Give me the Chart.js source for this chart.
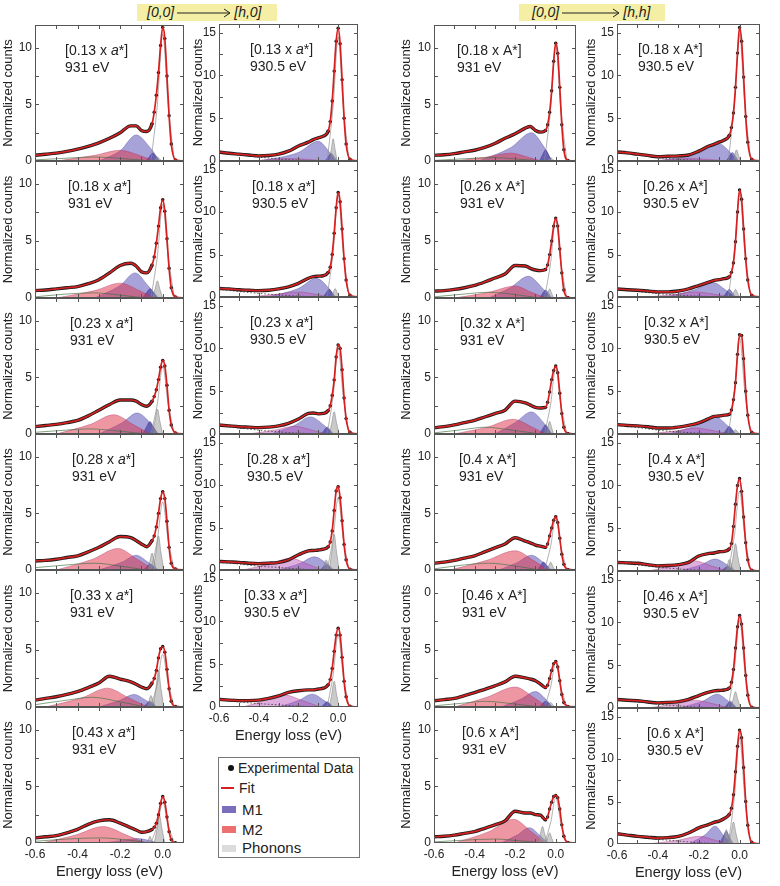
<!DOCTYPE html>
<html>
<head>
<meta charset="utf-8">
<script src="https://cdn.jsdelivr.net/npm/chart.js@4.4.1/dist/chart.umd.min.js"></script>
<style>
  body { margin: 0; background: #fff; font-family: "Liberation Sans", Arial, sans-serif; color: #222; }
  #stage { position: relative; width: 780px; height: 886px; overflow: hidden; }
  #stage canvas { position: absolute; }
  .hdr { position: absolute; top: 4px; height: 17px; background: #f4efa4; font-size: 14px; font-style: italic;
         line-height: 17px; display: flex; align-items: center; white-space: nowrap; }
  .hdr svg { margin: 0 2px; }
  .lg { position: absolute; left: 218px; top: 757px; width: 140px; height: 99px; border: 1px solid #777; }
  .lg div { position: absolute; }
  .lg .t { font-size: 14px; line-height: 16px; }
  .lg .t2 { font-size: 15px; line-height: 17px; }
</style>
</head>
<body>
<div id="stage">
  <div class="hdr" style="left:137px;width:140px">
    <span style="margin-left:10px">[0,0]</span>
    <svg width="56" height="10"><line x1="1" y1="5" x2="54" y2="5" stroke="#222" stroke-width="1"/><polyline points="48,1 54,5 48,9" fill="none" stroke="#222" stroke-width="1"/></svg>
    <span>[h,0]</span>
  </div>
  <div class="hdr" style="left:519px;width:146px">
    <span style="margin-left:13px">[0,0]</span>
    <svg width="60" height="10"><line x1="1" y1="5" x2="58" y2="5" stroke="#222" stroke-width="1"/><polyline points="52,1 58,5 52,9" fill="none" stroke="#222" stroke-width="1"/></svg>
    <span>[h,h]</span>
  </div>
  <div class="lg">
    <div style="left:9px;top:7px;width:6px;height:6px;border-radius:3px;background:#111"></div>
    <div class="t" style="left:19px;top:2px">Experimental Data</div>
    <div style="left:2px;top:29px;width:13px;height:2px;background:#d42020"></div>
    <div class="t" style="left:20px;top:22px">Fit</div>
    <div style="left:3px;top:48px;width:14px;height:7px;background:#7b6ebd"></div>
    <div class="t2" style="left:23px;top:43px">M1</div>
    <div style="left:3px;top:68px;width:14px;height:7px;background:#ec7070"></div>
    <div class="t2" style="left:23px;top:63px">M2</div>
    <div style="left:3px;top:87px;width:14px;height:7px;background:#dcdcdc"></div>
    <div class="t2" style="left:23px;top:81px">Phonons</div>
  </div>
</div>
<script>
// shared energy grid (eV) for the measured spectra
const energy = [-0.6, -0.55, -0.5, -0.45, -0.4, -0.35, -0.3, -0.25, -0.2, -0.15, -0.125, -0.1, -0.075,
    -0.05, -0.04, -0.03, -0.02, -0.01, 0, 0.01, 0.02, 0.03, 0.04, 0.06, 0.1];

const xTickValues = [-0.6, -0.4, -0.2, 0];
const xTickMarks = [-0.5, -0.4, -0.3, -0.2, -0.1, 0];
const yTicksLow = [0, 5, 10];
const yLabelsLow = ['0', '5', '10'];
const yLabelsOdd = ['0', '5', '0'];
const yMarksLow = [2.5, 5, 7.5, 10];
const yTicksHigh = [0, 5, 10, 15];
const yLabelsHigh = ['0', '5', '10', '15'];
const yMarksHigh = [2.5, 5, 7.5, 10, 12.5, 15];

// momentum transfer per panel
const qH931 = ['0.13', '0.18', '0.23', '0.28', '0.33', '0.43'];
const qH9305 = ['0.13', '0.18', '0.23', '0.28', '0.33'];
const qHH931 = ['0.18', '0.26', '0.32', '0.4', '0.46', '0.6'];
const qHH9305 = ['0.18', '0.26', '0.32', '0.4', '0.46', '0.6'];

// normalized counts on the energy grid
const countsH931 = [
    [0.5, 0.6, 0.7, 0.85, 1.05, 1.3, 1.6, 2.0, 2.5, 3.1, 3.1, 2.7, 2.6, 3.3, 4.3, 5.8, 7.8, 10.2, 11.8, 10.8, 7.5, 4.0, 1.5, 0.1, 0],
    [0.65, 0.7, 0.8, 0.9, 1.0, 1.25, 1.6, 2.2, 2.85, 3.05, 2.8, 2.3, 2.2, 2.9, 3.6, 4.8, 6.3, 7.9, 8.6, 7.6, 5.2, 2.6, 0.9, 0.1, 0],
    [0.65, 0.75, 0.85, 1.0, 1.2, 1.6, 2.1, 2.6, 3.0, 3.0, 2.9, 2.6, 2.45, 2.9, 3.3, 3.9, 4.8, 5.9, 6.5, 6.0, 4.3, 2.1, 0.8, 0.1, 0],
    [0.8, 0.85, 0.95, 1.1, 1.25, 1.6, 2.0, 2.5, 2.95, 2.85, 2.6, 2.3, 2.05, 2.6, 3.0, 3.8, 5.0, 6.3, 6.9, 6.3, 4.3, 2.0, 0.6, 0.1, 0],
    [0.6, 0.75, 0.9, 1.1, 1.35, 1.7, 2.1, 2.7, 2.45, 2.2, 2.0, 1.75, 1.6, 2.1, 2.5, 3.2, 4.3, 5.1, 5.3, 4.8, 3.3, 1.6, 0.5, 0.05, 0],
    [0.45, 0.55, 0.65, 0.9, 1.2, 1.65, 1.95, 2.05, 1.75, 1.35, 1.15, 0.95, 1.0, 1.2, 1.4, 1.75, 2.5, 3.5, 4.1, 3.6, 2.3, 1.0, 0.3, 0.02, 0]
];
const countsH9305 = [
    [1.05, 0.9, 0.8, 0.7, 0.6, 0.65, 0.8, 1.15, 1.75, 2.2, 2.5, 2.7, 2.9, 3.5, 4.6, 7.0, 10.5, 14.0, 15.5, 13.7, 9.5, 5.0, 2.0, 0.2, 0],
    [1.0, 0.95, 0.85, 0.8, 0.75, 0.8, 0.95, 1.2, 1.6, 2.2, 2.4, 2.45, 2.5, 2.9, 3.5, 5.0, 7.5, 10.5, 12.3, 11.2, 8.0, 4.5, 2.0, 0.2, 0],
    [1.05, 0.95, 0.85, 0.8, 0.75, 0.8, 0.95, 1.25, 1.75, 2.4, 2.45, 2.35, 2.4, 2.75, 3.3, 4.5, 6.3, 9.0, 10.4, 10.0, 7.5, 4.2, 1.8, 0.2, 0],
    [1.0, 0.95, 0.9, 0.8, 0.75, 0.8, 0.9, 1.2, 1.8, 2.25, 2.3, 2.35, 2.45, 2.75, 3.3, 4.6, 7.0, 9.3, 9.8, 8.5, 5.8, 3.0, 1.2, 0.1, 0],
    [0.9, 0.8, 0.75, 0.75, 0.8, 1.0, 1.3, 1.7, 1.9, 2.0, 2.0, 2.1, 2.2, 2.6, 3.2, 4.5, 6.5, 8.4, 9.2, 8.4, 5.8, 3.0, 1.2, 0.1, 0]
];
const countsHH931 = [
    [0.5, 0.55, 0.65, 0.8, 0.95, 1.2, 1.55, 2.0, 2.4, 2.9, 3.05, 2.7, 2.55, 2.7, 3.2, 4.3, 6.2, 8.8, 10.4, 9.5, 6.5, 3.2, 1.0, 0.05, 0],
    [0.6, 0.65, 0.75, 0.9, 1.1, 1.4, 1.75, 2.1, 2.85, 2.8, 2.6, 2.45, 2.4, 2.5, 2.9, 3.8, 5.0, 6.3, 7.0, 6.3, 4.3, 2.2, 0.7, 0.05, 0],
    [0.55, 0.65, 0.8, 1.0, 1.2, 1.5, 1.8, 2.1, 2.9, 2.75, 2.55, 2.35, 2.3, 2.35, 2.8, 3.7, 4.8, 5.6, 6.0, 5.4, 3.6, 1.8, 0.6, 0.05, 0],
    [0.6, 0.7, 0.85, 1.05, 1.25, 1.6, 1.95, 2.3, 2.85, 2.55, 2.4, 2.2, 2.1, 2.0, 2.3, 3.0, 3.7, 4.4, 4.7, 4.2, 2.8, 1.4, 0.5, 0.05, 0],
    [0.55, 0.65, 0.75, 1.0, 1.25, 1.55, 1.85, 2.2, 2.7, 2.55, 2.45, 2.3, 2.0, 1.7, 1.9, 2.5, 3.2, 3.8, 4.0, 3.5, 2.3, 1.1, 0.4, 0.05, 0],
    [0.55, 0.6, 0.7, 0.85, 1.0, 1.3, 1.6, 1.95, 2.8, 2.65, 2.65, 2.5, 2.45, 2.05, 2.3, 3.0, 3.6, 4.1, 4.2, 4.0, 3.0, 1.6, 0.6, 0.05, 0]
];
const countsHH9305 = [
    [1.05, 0.95, 0.8, 0.65, 0.5, 0.55, 0.6, 0.7, 1.15, 1.75, 1.95, 2.2, 2.45, 3.0, 3.9, 5.6, 8.6, 12.6, 15.6, 14.0, 9.8, 5.2, 2.2, 0.2, 0],
    [0.95, 0.85, 0.8, 0.7, 0.6, 0.6, 0.7, 0.95, 1.35, 1.75, 1.95, 2.05, 2.15, 2.4, 2.9, 4.0, 6.5, 10.0, 12.6, 11.5, 8.0, 4.5, 2.0, 0.2, 0],
    [1.1, 1.0, 0.95, 0.85, 0.7, 0.7, 0.8, 1.0, 1.3, 1.8, 2.05, 2.1, 2.2, 2.3, 2.8, 4.0, 6.0, 9.3, 11.6, 11.5, 8.8, 5.0, 2.2, 0.2, 0],
    [1.0, 0.95, 0.9, 0.75, 0.6, 0.65, 0.75, 1.0, 1.75, 2.05, 2.1, 2.25, 2.3, 2.6, 3.2, 5.2, 7.8, 10.0, 10.8, 9.3, 6.3, 3.3, 1.3, 0.1, 0],
    [1.0, 0.9, 0.85, 0.7, 0.6, 0.65, 0.75, 1.0, 1.45, 1.85, 2.0, 2.05, 2.1, 2.35, 3.0, 4.5, 7.0, 9.5, 10.8, 9.8, 7.0, 3.8, 1.5, 0.1, 0],
    [1.2, 1.05, 0.9, 0.8, 0.7, 0.75, 0.9, 1.3, 1.9, 2.3, 2.55, 2.7, 3.0, 3.5, 4.2, 5.8, 8.5, 11.5, 13.4, 12.5, 9.0, 5.0, 2.2, 0.2, 0]
];

// fitted components, as (energy, counts) pairs
const m1H931 = [
    [-0.3, 0, -0.2, 0.9, -0.125, 2.3, -0.06, 1.2, -0.015, 0],
    [-0.32, 0, -0.2, 1.1, -0.13, 2.2, -0.07, 1.1, -0.02, 0],
    [-0.3, 0, -0.19, 1.0, -0.12, 1.85, -0.06, 1.0, -0.02, 0],
    [-0.3, 0, -0.19, 0.7, -0.125, 1.3, -0.07, 0.7, -0.02, 0],
    [-0.3, 0, -0.2, 0.6, -0.135, 1.1, -0.08, 0.6, -0.03, 0],
    [-0.28, 0, -0.18, 0.25, -0.12, 0.4, -0.07, 0.25, -0.02, 0]
];
const m1bH931 = [
    [-0.08, 0, -0.062, 0.4, -0.047, 0.7, -0.032, 0.4, -0.015, 0],
    [-0.095, 0, -0.077, 0.45, -0.06, 0.8, -0.043, 0.45, -0.025, 0],
    [-0.095, 0, -0.077, 0.6, -0.06, 1.1, -0.043, 0.6, -0.025, 0],
    [-0.09, 0, -0.075, 0.3, -0.06, 0.5, -0.045, 0.3, -0.03, 0],
    [-0.09, 0, -0.075, 0.3, -0.06, 0.5, -0.045, 0.3, -0.03, 0],
    []
];
const m2H931 = [
    [-0.5, 0, -0.32, 0.5, -0.2, 0.95, -0.11, 0.5, -0.04, 0],
    [-0.5, 0, -0.32, 0.65, -0.2, 1.3, -0.11, 0.65, -0.04, 0],
    [-0.5, 0, -0.34, 0.85, -0.23, 1.7, -0.14, 0.85, -0.06, 0],
    [-0.5, 0, -0.33, 0.95, -0.21, 1.9, -0.12, 0.95, -0.04, 0],
    [-0.55, 0, -0.38, 0.8, -0.26, 1.65, -0.16, 0.8, -0.07, 0],
    [-0.57, 0, -0.41, 0.7, -0.28, 1.45, -0.17, 0.7, -0.08, 0]
];
const phH931 = [
    [-0.045, 0, -0.035, 0.2, -0.025, 0.35, -0.015, 0.2, -0.005, 0],
    [-0.05, 0, -0.037, 0.75, -0.025, 1.5, -0.013, 0.75, 0, 0],
    [-0.05, 0, -0.037, 1.1, -0.025, 2.2, -0.013, 1.1, 0, 0],
    [-0.045, 0, -0.032, 1.5, -0.02, 3.0, -0.008, 1.5, 0.005, 0],
    [-0.045, 0, -0.032, 1.6, -0.02, 3.2, -0.008, 1.6, 0.005, 0],
    [-0.04, 0, -0.027, 1.2, -0.015, 2.4, -0.003, 1.2, 0.01, 0]
];
const ph2H931 = [
    [], [], [],
    [-0.07, 0, -0.06, 0.75, -0.05, 1.5, -0.04, 0.75, -0.03, 0],
    [-0.075, 0, -0.065, 0.5, -0.055, 1.0, -0.045, 0.5, -0.035, 0],
    [-0.075, 0, -0.067, 0.3, -0.06, 0.6, -0.053, 0.3, -0.045, 0]
];
const elH931 = [
    [-0.055, 0, -0.025, 5.0, 0, 11.2, 0.025, 5.0, 0.055, 0],
    [-0.055, 0, -0.025, 3.7, 0, 8.2, 0.025, 3.7, 0.055, 0],
    [-0.055, 0, -0.025, 2.7, 0, 6.0, 0.025, 2.7, 0.055, 0],
    [-0.055, 0, -0.025, 2.7, 0, 6.0, 0.025, 2.7, 0.055, 0],
    [-0.055, 0, -0.025, 2.1, 0, 4.6, 0.025, 2.1, 0.055, 0],
    [-0.055, 0, -0.025, 1.6, 0, 3.6, 0.025, 1.6, 0.055, 0]
];
const bgH931 = [
    [-0.6, 0.1, -0.45, 0.25, -0.32, 0.35, -0.18, 0.2, -0.05, 0],
    [-0.6, 0.1, -0.45, 0.35, -0.33, 0.45, -0.2, 0.25, -0.08, 0],
    [-0.6, 0.15, -0.45, 0.35, -0.35, 0.45, -0.2, 0.25, -0.08, 0],
    [-0.6, 0.2, -0.45, 0.45, -0.32, 0.6, -0.2, 0.35, -0.08, 0],
    [-0.6, 0.2, -0.45, 0.6, -0.33, 0.85, -0.2, 0.45, -0.08, 0],
    [-0.6, 0.15, -0.45, 0.35, -0.3, 0.45, -0.18, 0.3, -0.06, 0]
];

const m1H9305 = [
    [-0.4, 0, -0.2, 1.0, -0.1, 2.3, -0.05, 1.2, -0.015, 0],
    [-0.36, 0, -0.2, 1.0, -0.11, 2.2, -0.05, 1.1, -0.015, 0],
    [-0.34, 0, -0.22, 1.0, -0.14, 2.0, -0.07, 1.0, -0.025, 0],
    [-0.3, 0, -0.19, 0.8, -0.12, 1.55, -0.06, 0.8, -0.02, 0],
    [-0.3, 0, -0.2, 0.75, -0.13, 1.5, -0.07, 0.75, -0.025, 0]
];
const m1bH9305 = [
    [-0.065, 0, -0.05, 0.5, -0.035, 0.9, -0.02, 0.5, -0.005, 0],
    [-0.075, 0, -0.06, 0.5, -0.045, 0.9, -0.03, 0.5, -0.015, 0],
    [-0.085, 0, -0.07, 0.45, -0.055, 0.8, -0.04, 0.45, -0.025, 0],
    [-0.09, 0, -0.075, 0.35, -0.06, 0.6, -0.045, 0.35, -0.03, 0],
    [-0.085, 0, -0.07, 0.35, -0.055, 0.6, -0.04, 0.35, -0.025, 0]
];
const m2H9305 = [
    [-0.45, 0, -0.33, 0.18, -0.25, 0.3, -0.15, 0.18, -0.05, 0],
    [-0.45, 0, -0.3, 0.35, -0.2, 0.6, -0.12, 0.35, -0.05, 0],
    [-0.45, 0, -0.31, 0.5, -0.22, 0.9, -0.14, 0.5, -0.06, 0],
    [-0.48, 0, -0.34, 0.75, -0.24, 1.4, -0.16, 0.75, -0.08, 0],
    [-0.48, 0, -0.37, 0.75, -0.27, 1.4, -0.18, 0.75, -0.09, 0]
];
const phH9305 = [
    [-0.045, 0, -0.035, 1.3, -0.025, 2.6, -0.015, 1.3, -0.005, 0],
    [-0.035, 0, -0.025, 0.5, -0.015, 1.0, -0.005, 0.5, 0.005, 0],
    [-0.045, 0, -0.032, 1.3, -0.02, 2.6, -0.008, 1.3, 0.005, 0],
    [-0.045, 0, -0.032, 2.1, -0.02, 4.2, -0.008, 2.1, 0.005, 0],
    [-0.045, 0, -0.032, 1.5, -0.02, 3.0, -0.008, 1.5, 0.005, 0]
];
const ph2H9305 = [[], [], [], [-0.08, 0, -0.07, 0.6, -0.06, 1.2, -0.05, 0.6, -0.04, 0], []];
const elH9305 = [
    [-0.055, 0, -0.025, 6.5, 0, 14.5, 0.025, 6.5, 0.055, 0],
    [-0.055, 0, -0.025, 5.4, 0, 12.0, 0.025, 5.4, 0.055, 0],
    [-0.055, 0, -0.025, 4.5, 0, 10.0, 0.025, 4.5, 0.055, 0],
    [-0.055, 0, -0.025, 3.8, 0, 8.5, 0.025, 3.8, 0.055, 0],
    [-0.055, 0, -0.025, 3.8, 0, 8.5, 0.025, 3.8, 0.055, 0]
];
const bgH9305 = [
    [-0.6, 1.0, -0.5, 0.75, -0.4, 0.45, -0.3, 0.25, -0.2, 0.1, -0.1, 0.02],
    [-0.6, 0.9, -0.5, 0.65, -0.4, 0.42, -0.3, 0.25, -0.2, 0.1, -0.1, 0.02],
    [-0.6, 0.95, -0.5, 0.7, -0.4, 0.45, -0.3, 0.25, -0.2, 0.1, -0.1, 0.02],
    [-0.6, 0.9, -0.5, 0.7, -0.4, 0.45, -0.3, 0.3, -0.2, 0.12, -0.1, 0.02],
    [-0.6, 0.8, -0.5, 0.6, -0.4, 0.4, -0.3, 0.25, -0.2, 0.1, -0.1, 0.02]
];

const m1HH931 = [
    [-0.38, 0, -0.22, 1.2, -0.12, 2.5, -0.06, 1.3, -0.02, 0],
    [-0.33, 0, -0.22, 0.95, -0.135, 1.9, -0.07, 0.95, -0.025, 0],
    [-0.3, 0, -0.2, 1.0, -0.12, 1.95, -0.06, 1.0, -0.02, 0],
    [-0.28, 0, -0.19, 0.65, -0.12, 1.3, -0.06, 0.65, -0.02, 0],
    [-0.27, 0, -0.17, 0.7, -0.1, 1.35, -0.05, 0.7, -0.015, 0],
    [-0.27, 0, -0.19, 0.7, -0.13, 1.35, -0.08, 0.7, -0.04, 0]
];
const m1bHH931 = [
    [-0.08, 0, -0.065, 0.55, -0.05, 1.0, -0.035, 0.55, -0.02, 0],
    [-0.08, 0, -0.065, 0.4, -0.05, 0.7, -0.035, 0.4, -0.02, 0],
    [-0.08, 0, -0.065, 0.45, -0.05, 0.8, -0.035, 0.45, -0.02, 0],
    [-0.09, 0, -0.075, 0.4, -0.06, 0.7, -0.045, 0.4, -0.03, 0],
    [-0.08, 0, -0.065, 0.3, -0.05, 0.5, -0.035, 0.3, -0.02, 0],
    []
];
const m2HH931 = [
    [-0.5, 0, -0.34, 0.35, -0.22, 0.7, -0.14, 0.35, -0.07, 0],
    [-0.5, 0, -0.33, 0.5, -0.2, 1.05, -0.12, 0.5, -0.05, 0],
    [-0.5, 0, -0.33, 0.65, -0.21, 1.3, -0.12, 0.65, -0.05, 0],
    [-0.52, 0, -0.34, 0.85, -0.2, 1.7, -0.11, 0.85, -0.04, 0],
    [-0.5, 0, -0.34, 0.85, -0.2, 1.75, -0.11, 0.85, -0.04, 0],
    [-0.5, 0, -0.33, 1.0, -0.21, 2.1, -0.12, 1.0, -0.05, 0]
];
const phHH931 = [
    [-0.045, 0, -0.035, 0.15, -0.025, 0.3, -0.015, 0.15, -0.005, 0],
    [-0.05, 0, -0.04, 0.4, -0.03, 0.8, -0.02, 0.4, -0.01, 0],
    [-0.05, 0, -0.04, 0.55, -0.03, 1.1, -0.02, 0.55, -0.01, 0],
    [-0.045, 0, -0.035, 0.35, -0.025, 0.7, -0.015, 0.35, -0.005, 0],
    [-0.045, 0, -0.035, 0.2, -0.025, 0.4, -0.015, 0.2, -0.005, 0],
    [-0.05, 0, -0.04, 0.45, -0.03, 0.9, -0.02, 0.45, -0.01, 0]
];
const ph2HH931 = [[], [], [], [], [], [-0.09, 0, -0.077, 0.7, -0.065, 1.45, -0.053, 0.7, -0.04, 0]];
const elHH931 = [
    [-0.055, 0, -0.025, 4.6, 0, 10.2, 0.025, 4.6, 0.055, 0],
    [-0.055, 0, -0.025, 3.1, 0, 6.9, 0.025, 3.1, 0.055, 0],
    [-0.055, 0, -0.025, 2.65, 0, 5.9, 0.025, 2.65, 0.055, 0],
    [-0.055, 0, -0.025, 2.1, 0, 4.6, 0.025, 2.1, 0.055, 0],
    [-0.055, 0, -0.025, 1.75, 0, 3.9, 0.025, 1.75, 0.055, 0],
    [-0.055, 0, -0.025, 1.8, 0, 4.0, 0.025, 1.8, 0.055, 0]
];
const bgHH931 = [
    [-0.6, 0.05, -0.45, 0.2, -0.3, 0.3, -0.18, 0.15, -0.06, 0],
    [-0.6, 0.1, -0.45, 0.35, -0.33, 0.5, -0.2, 0.3, -0.08, 0],
    [-0.6, 0.1, -0.45, 0.4, -0.35, 0.6, -0.22, 0.35, -0.08, 0],
    [-0.6, 0.1, -0.45, 0.45, -0.33, 0.6, -0.2, 0.35, -0.08, 0],
    [-0.6, 0.1, -0.45, 0.35, -0.35, 0.5, -0.22, 0.3, -0.08, 0],
    [-0.6, 0.1, -0.45, 0.25, -0.3, 0.35, -0.18, 0.2, -0.06, 0]
];

const m1HH9305 = [
    [-0.4, 0, -0.2, 0.95, -0.1, 2.0, -0.05, 1.1, -0.015, 0],
    [-0.36, 0, -0.22, 0.85, -0.13, 1.7, -0.07, 0.85, -0.025, 0],
    [-0.35, 0, -0.21, 1.0, -0.12, 2.0, -0.06, 1.0, -0.02, 0],
    [-0.3, 0, -0.19, 0.7, -0.12, 1.4, -0.06, 0.7, -0.02, 0],
    [-0.3, 0, -0.18, 0.8, -0.11, 1.6, -0.055, 0.8, -0.015, 0],
    [-0.25, 0, -0.17, 1.05, -0.12, 2.1, -0.08, 1.05, -0.04, 0]
];
const m1bHH9305 = [
    [-0.065, 0, -0.05, 0.55, -0.035, 1.0, -0.02, 0.55, -0.005, 0],
    [-0.08, 0, -0.065, 0.5, -0.05, 0.9, -0.035, 0.5, -0.02, 0],
    [-0.08, 0, -0.065, 0.5, -0.05, 0.9, -0.035, 0.5, -0.02, 0],
    [-0.09, 0, -0.075, 0.3, -0.06, 0.5, -0.045, 0.3, -0.03, 0],
    [-0.075, 0, -0.06, 0.45, -0.045, 0.8, -0.03, 0.45, -0.015, 0],
    [-0.1, 0, -0.083, 0.75, -0.065, 1.5, -0.048, 0.75, -0.03, 0]
];
const m2HH9305 = [
    [-0.45, 0, -0.33, 0.18, -0.25, 0.3, -0.15, 0.18, -0.05, 0],
    [-0.45, 0, -0.3, 0.35, -0.22, 0.6, -0.13, 0.35, -0.05, 0],
    [-0.45, 0, -0.3, 0.4, -0.22, 0.7, -0.13, 0.4, -0.05, 0],
    [-0.45, 0, -0.32, 0.6, -0.22, 1.2, -0.14, 0.6, -0.06, 0],
    [-0.45, 0, -0.31, 0.5, -0.22, 0.9, -0.13, 0.5, -0.05, 0],
    [-0.45, 0, -0.3, 0.45, -0.2, 0.9, -0.12, 0.45, -0.05, 0]
];
const phHH9305 = [
    [-0.035, 0, -0.025, 0.65, -0.015, 1.3, -0.005, 0.65, 0.005, 0],
    [-0.04, 0, -0.03, 0.45, -0.02, 0.9, -0.01, 0.45, 0, 0],
    [-0.04, 0, -0.03, 0.25, -0.02, 0.5, -0.01, 0.25, 0, 0],
    [-0.045, 0, -0.032, 1.6, -0.02, 3.2, -0.008, 1.6, 0.005, 0],
    [-0.045, 0, -0.032, 0.95, -0.02, 1.9, -0.008, 0.95, 0.005, 0],
    [-0.055, 0, -0.042, 1.3, -0.03, 2.6, -0.018, 1.3, -0.005, 0]
];
const ph2HH9305 = [[], [], [], [-0.07, 0, -0.06, 0.7, -0.05, 1.35, -0.04, 0.7, -0.03, 0], [],
    [-0.085, 0, -0.075, 0.85, -0.065, 1.7, -0.055, 0.85, -0.045, 0]];
const elHH9305 = [
    [-0.055, 0, -0.025, 6.7, 0, 14.8, 0.025, 6.7, 0.055, 0],
    [-0.055, 0, -0.025, 5.5, 0, 12.2, 0.025, 5.5, 0.055, 0],
    [-0.055, 0, -0.025, 5.1, 0, 11.3, 0.025, 5.1, 0.055, 0],
    [-0.055, 0, -0.025, 4.2, 0, 9.3, 0.025, 4.2, 0.055, 0],
    [-0.055, 0, -0.025, 4.6, 0, 10.2, 0.025, 4.6, 0.055, 0],
    [-0.055, 0, -0.025, 5.6, 0, 12.5, 0.025, 5.6, 0.055, 0]
];
const bgHH9305 = [
    [-0.6, 1.0, -0.5, 0.7, -0.4, 0.4, -0.3, 0.2, -0.2, 0.08, -0.1, 0.02],
    [-0.6, 0.9, -0.5, 0.65, -0.4, 0.4, -0.3, 0.22, -0.2, 0.1, -0.1, 0.02],
    [-0.6, 1.0, -0.5, 0.75, -0.4, 0.45, -0.3, 0.25, -0.2, 0.1, -0.1, 0.02],
    [-0.6, 0.95, -0.5, 0.7, -0.4, 0.45, -0.3, 0.25, -0.2, 0.1, -0.1, 0.02],
    [-0.6, 0.95, -0.5, 0.7, -0.4, 0.45, -0.3, 0.25, -0.2, 0.1, -0.1, 0.02],
    [-0.6, 1.1, -0.5, 0.8, -0.4, 0.55, -0.3, 0.35, -0.2, 0.15, -0.1, 0.03]
];

const FONT = '"Liberation Sans", Arial, sans-serif';
Chart.defaults.font.family = FONT;
Chart.defaults.color = '#222';

const M2_RED = 'rgba(222,48,72,0.5)';
const M2_VIOLET = 'rgba(185,85,185,0.48)';

const columns = [
    { counts: countsH931, m1: m1H931, m1b: m1bH931, m2: m2H931, ph: phH931, ph2: ph2H931, el: elH931, bg: bgH931,
      q: qH931, eText: '931 eV', italicA: true, plotLeft: 35, plotW: 150, top: 25, rowH: 136.3, yW: 34,
      yMax: 12, yTicks: yTicksLow, yLabels: yLabelsLow, yMarks: yMarksLow, textDx: [30, 33, 35, 37, 35, 37],
      m2Color: M2_RED, bgColor: 'rgba(60,110,60,0.8)', bgDash: [] },
    { counts: countsH9305, m1: m1H9305, m1b: m1bH9305, m2: m2H9305, ph: phH9305, ph2: ph2H9305, el: elH9305, bg: bgH9305,
      q: qH9305, eText: '930.5 eV', italicA: true, plotLeft: 219, plotW: 140, top: 24, rowH: 136.6, yW: 28,
      yMax: 16, yTicks: yTicksHigh, yLabels: yLabelsHigh, yMarks: yMarksHigh, textDx: [31, 33, 31, 28, 25],
      m2Color: M2_VIOLET, bgColor: '#333', bgDash: [1.5, 2] },
    { counts: countsHH931, m1: m1HH931, m1b: m1bHH931, m2: m2HH931, ph: phHH931, ph2: ph2HH931, el: elHH931, bg: bgHH931,
      q: qHH931, eText: '931 eV', italicA: false, plotLeft: 434, plotW: 143, top: 25, rowH: 136.3, yW: 35,
      yMax: 12, yTicks: yTicksLow, yLabels: yLabelsLow, yMarks: yMarksLow, textDx: [23, 26, 26, 25, 28, 28],
      oddLabels: { 4: yLabelsOdd },
      m2Color: M2_RED, bgColor: 'rgba(60,110,60,0.8)', bgDash: [] },
    { counts: countsHH9305, m1: m1HH9305, m1b: m1bHH9305, m2: m2HH9305, ph: phHH9305, ph2: ph2HH9305, el: elHH9305, bg: bgHH9305,
      q: qHH9305, eText: '930.5 eV', italicA: false, plotLeft: 617, plotW: 144, top: 24, rowH: 136.7, yW: 33,
      yMax: 16, yTicks: yTicksHigh, yLabels: yLabelsHigh, yMarks: yMarksHigh, textDx: [21, 26, 27, 31, 26, 30],
      m2Color: M2_VIOLET, bgColor: '#333', bgDash: [1.5, 2] }
];

function pairs(flat) {
    const out = [];
    for (let i = 0; i < flat.length; i += 2) out.push({ x: flat[i], y: flat[i + 1] });
    return out;
}

// frame, inward ticks and the in-panel annotation
const panelDecor = {
    id: 'panelDecor',
    afterDatasetsDraw(chart, args, opts) {
        const { ctx, chartArea: a, scales: { x, y } } = chart;
        ctx.save();
        ctx.strokeStyle = '#555';
        ctx.lineWidth = 1;
        ctx.strokeRect(Math.round(a.left) + 0.5, Math.round(a.top) + 0.5,
            Math.round(a.right - a.left) - 1, Math.round(a.bottom - a.top) - 1);
        ctx.beginPath();
        xTickMarks.forEach(function (v) {
            const px = Math.round(x.getPixelForValue(v)) + 0.5;
            ctx.moveTo(px, a.bottom); ctx.lineTo(px, a.bottom - 4);
            ctx.moveTo(px, a.top); ctx.lineTo(px, a.top + 4);
        });
        opts.yMarks.forEach(function (v) {
            const py = Math.round(y.getPixelForValue(v)) + 0.5;
            ctx.moveTo(a.left, py); ctx.lineTo(a.left + 4, py);
            ctx.moveTo(a.right, py); ctx.lineTo(a.right - 4, py);
        });
        ctx.stroke();

        ctx.fillStyle = '#222';
        ctx.textBaseline = 'middle';
        let tx = a.left + opts.dx;
        const ty = a.top + 26;
        const parts = opts.italicA
            ? [['[' + opts.q + ' x ', false], ['a', true], ['*]', false]]
            : [['[' + opts.q + ' x A*]', false]];
        parts.forEach(function (p) {
            ctx.font = (p[1] ? 'italic ' : '') + '14px ' + FONT;
            ctx.fillText(p[0], tx, ty);
            tx += ctx.measureText(p[0]).width;
        });
        ctx.font = '14px ' + FONT;
        ctx.fillText(opts.eText, a.left + opts.dx, ty + 17);
        ctx.restore();
    }
};

const PAD_T = 5;
const PAD_R = 3;
const stage = document.getElementById('stage');

columns.forEach(function (col) {
    const n = col.counts.length;
    for (let i = 0; i < n; i++) {
        const rowTop = Math.round(col.top + i * col.rowH);
        const plotH = Math.round(col.top + (i + 1) * col.rowH) - rowTop;
        const last = i === n - 1;
        const xH = last ? 42 : 9;
        const yW = col.yW;
        const yLabels = (col.oddLabels && col.oddLabels[i]) || col.yLabels;

        const cv = document.createElement('canvas');
        cv.width = yW + col.plotW + PAD_R;
        cv.height = PAD_T + plotH + xH;
        cv.style.left = (col.plotLeft - yW) + 'px';
        cv.style.top = (rowTop - PAD_T) + 'px';
        stage.appendChild(cv);

        const comp = function (label, flat, style) {
            return Object.assign({
                label: label, data: pairs(flat), pointRadius: 0, borderWidth: 0.7,
                cubicInterpolationMode: 'monotone', fill: 'origin'
            }, style);
        };
        const spectrum = pairs(energy.flatMap(function (e, k) { return [e, col.counts[i][k]]; }));
        const datasets = [
            {
                label: 'Fit', data: spectrum,
                borderColor: '#d42020', borderWidth: 1.7, pointRadius: 0, fill: false,
                cubicInterpolationMode: 'monotone', order: 1
            },
            {
                label: 'Experimental Data', data: spectrum,
                borderColor: '#1c1c1c', borderWidth: 3.4, fill: false, cubicInterpolationMode: 'monotone',
                pointRadius: function (c) { return energy[c.dataIndex] >= -0.05 ? 1.7 : 0; },
                pointBackgroundColor: '#111', pointBorderWidth: 0,
                segment: { borderColor: function (s) { return s.p0.parsed.x >= -0.05 ? 'rgba(0,0,0,0)' : '#1c1c1c'; } },
                order: 2
            },
            comp('Elastic', col.el[i], { fill: false, borderColor: 'rgba(140,140,140,0.85)', borderWidth: 0.8, order: 3 }),
            comp('Background', col.bg[i], { fill: false, borderColor: col.bgColor, borderWidth: 0.8, borderDash: col.bgDash, order: 4 }),
            comp('M1', col.m1[i], { backgroundColor: 'rgba(60,50,170,0.45)', borderColor: 'rgba(60,50,150,0.5)', order: 9 }),
            comp('M2', col.m2[i], { backgroundColor: col.m2Color, borderColor: 'rgba(170,40,90,0.5)', order: 7 })
        ];
        if (col.m1b[i].length) datasets.push(comp('M1b', col.m1b[i], { backgroundColor: 'rgba(40,30,140,0.5)', borderColor: 'rgba(40,30,120,0.5)', order: 8 }));
        if (col.ph[i].length) datasets.push(comp('Phonons', col.ph[i], { backgroundColor: 'rgba(150,150,150,0.5)', borderColor: 'rgba(120,120,120,0.7)', order: 5 }));
        if (col.ph2[i].length) datasets.push(comp('Phonons 2', col.ph2[i], { backgroundColor: 'rgba(150,150,150,0.5)', borderColor: 'rgba(120,120,120,0.7)', order: 6 }));

        new Chart(cv, {
            type: 'line',
            data: { datasets: datasets },
            plugins: [panelDecor],
            options: {
                responsive: false,
                animation: false,
                events: [],
                layout: { padding: { top: PAD_T, right: PAD_R, left: 0, bottom: 0 } },
                plugins: {
                    legend: { display: false },
                    tooltip: { enabled: false },
                    panelDecor: { yMarks: col.yMarks, q: col.q[i], eText: col.eText, italicA: col.italicA, dx: col.textDx[i] }
                },
                scales: {
                    x: {
                        type: 'linear', min: -0.6, max: 0.1,
                        grid: { display: false, drawTicks: false },
                        border: { display: false },
                        afterBuildTicks: function (axis) { axis.ticks = xTickValues.map(function (v) { return { value: v }; }); },
                        afterFit: function (s) { s.height = xH; s.paddingLeft = 0; s.paddingRight = 0; },
                        ticks: {
                            display: last, padding: 4, maxRotation: 0, autoSkip: false,
                            font: { size: 12 }, color: '#222',
                            callback: function (v) { return Number(v).toFixed(1); }
                        },
                        title: { display: last, text: 'Energy loss (eV)', font: { size: 14.5 }, color: '#222', padding: { top: 0, bottom: 4 } }
                    },
                    y: {
                        min: 0, max: col.yMax,
                        grid: { display: false, drawTicks: false },
                        border: { display: false },
                        afterBuildTicks: function (axis) { axis.ticks = col.yTicks.map(function (v) { return { value: v }; }); },
                        afterFit: function (s) { s.width = yW; s.paddingTop = 0; s.paddingBottom = 0; },
                        ticks: {
                            padding: 3, font: { size: 12 }, color: '#222', autoSkip: false,
                            callback: function (v, idx) { return yLabels[idx]; }
                        },
                        title: { display: true, text: 'Normalized counts', font: { size: 13 }, color: '#222', padding: { top: 0, bottom: 0 } }
                    }
                }
            }
        });
    }
});
</script>
</body>
</html>
